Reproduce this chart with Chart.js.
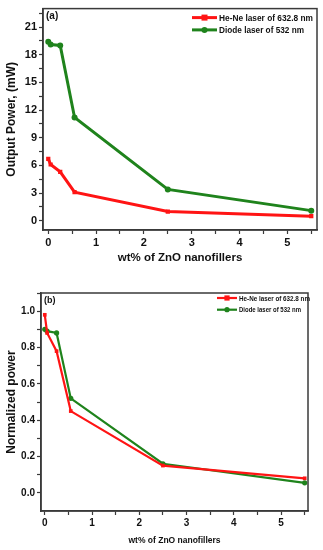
<!DOCTYPE html>
<html>
<head>
<meta charset="utf-8">
<script src="https://cdn.jsdelivr.net/npm/chart.js@4/dist/chart.umd.min.js"></script>
<style>
  body { margin: 0; background: #fff; }
  .box { position: absolute; left: 0; width: 323px; }
</style>
</head>
<body>
<div class="box" style="top:0;height:275px"><canvas id="chartA"></canvas></div>
<div class="box" style="top:280px;height:270px"><canvas id="chartB"></canvas></div>
<script>
// wt% of ZnO nanofillers
const wt = [0, 0.05, 0.25, 0.55, 2.5, 5.5];

// (a) output power, mW
const heNePower = [6.7, 6.1, 5.3, 3.1, 1.0, 0.5];
const diodePower = [19.4, 19.1, 19.0, 11.2, 3.4, 1.1];

// (b) normalized power
const heNeNorm = [0.98, 0.88, 0.78, 0.45, 0.15, 0.08];
const diodeNorm = [0.90, 0.89, 0.88, 0.52, 0.16, 0.055];

// tick labels
const wtTicks = [0, 1, 2, 3, 4, 5];
const powerTicks = [0, 3, 6, 9, 12, 15, 18, 21];
const normTicks = [0.0, 0.2, 0.4, 0.6, 0.8, 1.0];

const seriesNames = ['He-Ne laser of 632.8 nm', 'Diode laser of 532 nm'];
const RED = '#ff1414';
const GREEN = '#1f831c';
const FRAME = '#3a3a3a';
const FONT = "'Liberation Sans', Arial, sans-serif";

function pts(ys) {
    return wt.map((x, i) => ({ x: x, y: ys[i] }));
}

// major ticks plus one minor tick between each pair
function withMinor(major, extraTop) {
    const step = major[1] - major[0];
    const out = [];
    major.forEach(v => { out.push(v); out.push(v + step / 2); });
    if (!extraTop) out.pop();
    return out;
}

const framePlugin = {
    id: 'frame',
    afterDraw(chart, args, opts) {
        const { ctx, chartArea: a } = chart;
        ctx.save();
        ctx.strokeStyle = FRAME;
        ctx.lineWidth = 1.5;
        ctx.strokeRect(a.left, a.top, a.right - a.left, a.bottom - a.top);

        // panel label
        ctx.fillStyle = '#111';
        ctx.font = 'bold ' + opts.labelSize + 'px ' + FONT;
        ctx.textBaseline = 'middle';
        ctx.textAlign = 'left';
        ctx.fillText(opts.label, a.left + 3, a.top + opts.labelDy);

        // legend
        const lg = opts.legend;
        ctx.font = 'bold ' + lg.size + 'px ' + FONT;
        chart.data.datasets.forEach((ds, i) => {
            const y = a.top + lg.y + i * lg.gap;
            ctx.strokeStyle = ds.borderColor;
            ctx.lineWidth = ds.borderWidth;
            ctx.beginPath();
            ctx.moveTo(lg.x, y);
            ctx.lineTo(lg.x + lg.len, y);
            ctx.stroke();
            ctx.fillStyle = ds.borderColor;
            const cx = lg.x + lg.len / 2, r = ds.pointRadius;
            if (ds.pointStyle === 'rect') {
                ctx.fillRect(cx - r, y - r, r * 2, r * 2);
            } else {
                ctx.beginPath();
                ctx.arc(cx, y, r, 0, Math.PI * 2);
                ctx.fill();
            }
            ctx.fillStyle = '#111';
            const w = lg.widths[i];
            ctx.fillText(ds.label, lg.x + lg.len + 2, y + 0.5, w);
        });
        ctx.restore();
    }
};

function makeChart(id, cfg) {
    const tickFont = { family: FONT, weight: 'bold', size: cfg.tickSize };
    return new Chart(document.getElementById(id), {
        type: 'line',
        data: {
            datasets: [
                {
                    label: seriesNames[0], data: pts(cfg.red),
                    borderColor: RED, backgroundColor: RED, borderWidth: cfg.lw,
                    pointStyle: 'rect', pointRadius: cfg.pr, pointBorderWidth: 0
                },
                {
                    label: seriesNames[1], data: pts(cfg.green),
                    borderColor: GREEN, backgroundColor: GREEN, borderWidth: cfg.lw,
                    pointStyle: 'circle', pointRadius: cfg.pr, pointBorderWidth: 0
                }
            ]
        },
        options: {
            responsive: true,
            maintainAspectRatio: false,
            animation: false,
            layout: { padding: cfg.pad },
            plugins: {
                legend: { display: false },
                tooltip: { enabled: false },
                frame: cfg.frame
            },
            scales: {
                x: {
                    type: 'linear', min: cfg.xMin, max: cfg.xMax,
                    border: { color: FRAME, width: 1.5 },
                    grid: { drawOnChartArea: false, tickLength: 4, color: FRAME, tickWidth: 1.2 },
                    afterBuildTicks: s => { s.ticks = withMinor(wtTicks, true).map(v => ({ value: v })); },
                    afterFit: s => { s.height = cfg.xH; },
                    ticks: {
                        autoSkip: false, maxRotation: 0, padding: 2, color: '#111', font: tickFont,
                        callback: v => wtTicks.includes(v) ? String(v) : ''
                    },
                    title: {
                        display: true, text: 'wt% of ZnO nanofillers', color: '#111',
                        font: { family: FONT, weight: 'bold', size: cfg.xTitleSize },
                        padding: { top: 0, bottom: cfg.xTitlePad }
                    }
                },
                y: {
                    type: 'linear', min: cfg.yMin, max: cfg.yMax,
                    border: { color: FRAME, width: 1.5 },
                    grid: { drawOnChartArea: false, tickLength: 4, color: FRAME, tickWidth: 1.2 },
                    afterBuildTicks: s => { s.ticks = withMinor(cfg.yTicks, true).map(v => ({ value: +v.toFixed(3) })); },
                    afterFit: s => { s.width = cfg.yW; },
                    ticks: {
                        autoSkip: false, padding: 2, color: '#111', font: tickFont,
                        callback: v => cfg.yTicks.some(t => Math.abs(t - v) < 1e-6) ? cfg.fmt(v) : ''
                    },
                    title: {
                        display: true, text: cfg.yTitle, color: '#111',
                        font: { family: FONT, weight: 'bold', size: cfg.yTitleSize },
                        padding: { top: cfg.yTitlePad, bottom: 0 }
                    }
                }
            }
        },
        plugins: [framePlugin]
    });
}

makeChart('chartA', {
    red: heNePower, green: diodePower,
    xMin: -0.11, xMax: 5.62, yMin: -1, yMax: 23,
    yTicks: powerTicks, fmt: v => String(v),
    yTitle: 'Output Power, (mW)',
    pad: { top: 7, right: 6, left: 0, bottom: 10 },
    xH: 35, yW: 43, lw: 3, pr: 3,
    tickSize: 11, xTitleSize: 11.5, xTitlePad: 0, yTitleSize: 12, yTitlePad: 4,
    frame: {
        label: '(a)', labelSize: 10, labelDy: 8,
        legend: { x: 192, y: 9, gap: 12.3, len: 25, size: 9, widths: [94, 85] }
    }
});

makeChart('chartB', {
    red: heNeNorm, green: diodeNorm,
    xMin: -0.08, xMax: 5.57, yMin: -0.1, yMax: 1.1,
    yTicks: normTicks, fmt: v => v.toFixed(1),
    yTitle: 'Normalized power',
    pad: { top: 13, right: 15, left: 0, bottom: 4 },
    xH: 35, yW: 41, lw: 2.2, pr: 2.6,
    tickSize: 10, xTitleSize: 8.5, xTitlePad: 0, yTitleSize: 12, yTitlePad: 4,
    frame: {
        label: '(b)', labelSize: 9, labelDy: 8,
        legend: { x: 217, y: 5, gap: 11.7, len: 20, size: 7.5, widths: [71, 62] }
    }
});
</script>
</body>
</html>
